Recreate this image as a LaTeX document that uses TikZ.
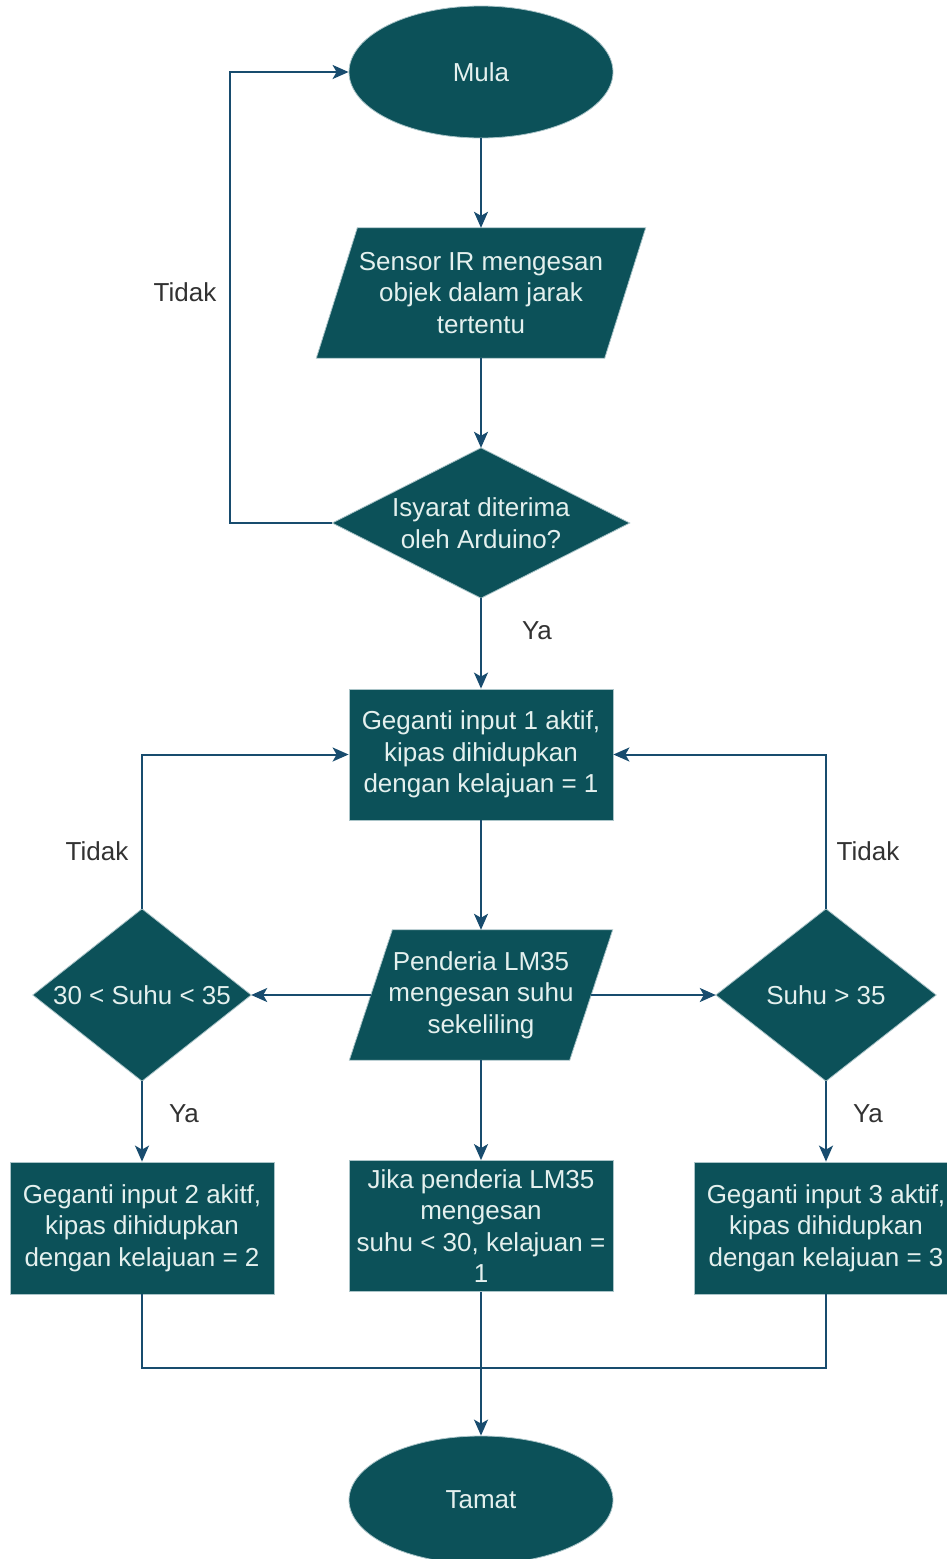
\documentclass[tikz,border=0pt]{standalone}
\usepackage{fontspec}
\setmainfont{Liberation Sans}
\usetikzlibrary{shapes.geometric,arrows.meta,backgrounds}
\definecolor{boxfill}{RGB}{12,81,89}
\definecolor{boxline}{RGB}{170,196,200}
\definecolor{txtcol}{RGB}{228,240,238}
\definecolor{conn}{RGB}{24,76,110}
\definecolor{labelgray}{RGB}{50,50,50}
\begin{document}
\begin{tikzpicture}[x=1pt,y=-1pt,
  font=\fontsize{26}{31.5}\selectfont,
  base/.style={inner sep=0pt, align=center, text=txtcol},
  terminal/.style={base, ellipse, fill=boxfill, draw=boxline, line width=0.8pt},
  procbox/.style={base, rectangle, fill=boxfill, draw=boxline, line width=0.8pt, minimum width=264pt, minimum height=131pt},
  iobox/.style={base, rectangle, minimum height=130pt},
  decbox/.style={base, rectangle},
  shapefill/.style={fill=boxfill, draw=boxline, line width=0.8pt},
  arr/.style={draw=conn, line width=2pt, -{Stealth[length=16pt,width=14pt,inset=4pt]}},
  link/.style={draw=conn, line width=2pt},
  edgelabel/.style={text=labelgray, inner sep=0pt}]
\useasboundingbox (0,0) rectangle (946,1559);

\node[terminal, minimum width=264pt, minimum height=132pt] (mula) at (481,72) {Mula};
\node[iobox, minimum width=288pt] (p1) at (481,293) {Sensor IR mengesan\\objek dalam jarak\\tertentu};
\node[decbox, minimum width=297pt, minimum height=150pt] (d1) at (481,523) {Isyarat diterima\\oleh Arduino?};
\node[procbox] (r1) at (481,754.5) {Geganti input 1 aktif,\\kipas dihidupkan\\dengan kelajuan = 1};
\node[iobox, minimum width=220pt] (p2) at (481,995) {Penderia LM35\\mengesan suhu\\sekeliling};
\node[decbox, minimum width=218pt, minimum height=172pt] (dl) at (142,995) {30 < Suhu < 35};
\node[decbox, minimum width=220pt, minimum height=172pt] (dr) at (826,995) {Suhu > 35};
\node[procbox, minimum height=132pt] (rl) at (142,1228) {Geganti input 2 akitf,\\kipas dihidupkan\\dengan kelajuan = 2};
\node[procbox] (rm) at (481,1226) {Jika penderia LM35\\mengesan\\suhu < 30, kelajuan =\\1};
\node[procbox, minimum height=132pt] (rr) at (826,1228) {Geganti input 3 aktif,\\kipas dihidupkan\\dengan kelajuan = 3};
\node[terminal, minimum width=264pt, minimum height=128pt] (tamat) at (481,1500) {Tamat};

\begin{scope}[on background layer]
\path[shapefill] ([xshift=20.5pt]p1.north west) -- ([xshift=20.5pt]p1.north east) -- ([xshift=-20.5pt]p1.south east) -- ([xshift=-20.5pt]p1.south west) -- cycle;
\path[shapefill] ([xshift=21.5pt]p2.north west) -- ([xshift=21.5pt]p2.north east) -- ([xshift=-21.5pt]p2.south east) -- ([xshift=-21.5pt]p2.south west) -- cycle;
\path[shapefill] (d1.north) -- (d1.east) -- (d1.south) -- (d1.west) -- cycle;
\path[shapefill] (dl.north) -- (dl.east) -- (dl.south) -- (dl.west) -- cycle;
\path[shapefill] (dr.north) -- (dr.east) -- (dr.south) -- (dr.west) -- cycle;
\end{scope}

\node[edgelabel] (t1) at (185,292) {Tidak};
\node[edgelabel] (y1) at (537,631) {Ya};
\node[edgelabel] (t2) at (97,851) {Tidak};
\node[edgelabel] (t3) at (868,851) {Tidak};
\node[edgelabel] (y2) at (184,1114) {Ya};
\node[edgelabel] (y3) at (868,1114) {Ya};

\draw[arr] (mula.south) -- (p1.north);
\draw[arr] (p1.south) -- (d1.north);
\draw[arr] (d1.west) -- ++(-102,0) |- (mula.west);
\draw[arr] (d1.south) -- (r1.north);
\draw[arr] (r1.south) -- (p2.north);
\draw[arr] (p2.west) -- (dl.east);
\draw[arr] (p2.east) -- (dr.west);
\draw[arr] (dl.north) |- (r1.west);
\draw[arr] (dr.north) |- (r1.east);
\draw[arr] (dl.south) -- (rl.north);
\draw[arr] (dr.south) -- (rr.north);
\draw[arr] (p2.south) -- (rm.north);
\draw[arr] (rm.south) -- (tamat.north);
\draw[link] (rl.south) -- ++(0,74) -| (rr.south);
\end{tikzpicture}
\end{document}
